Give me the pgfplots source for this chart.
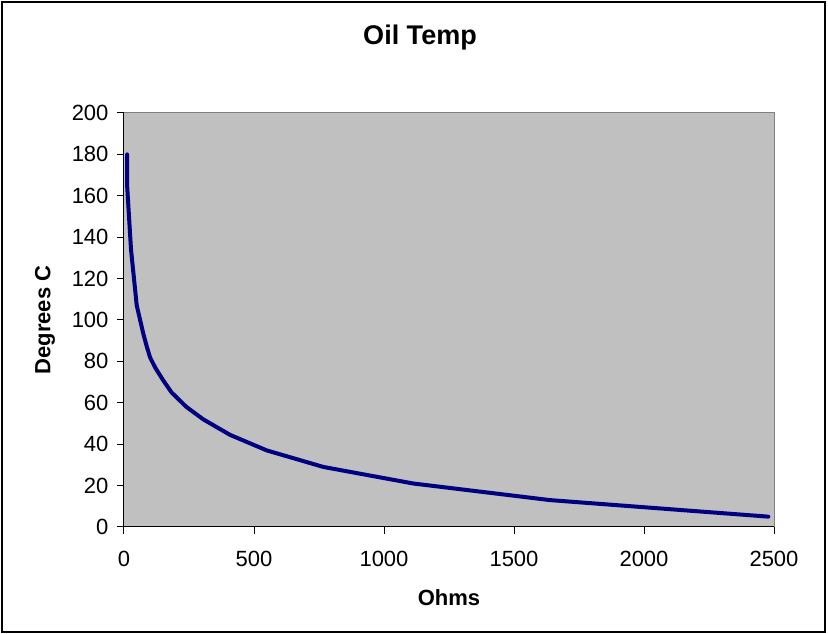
\documentclass[border=0pt]{standalone}
\usepackage{pgfplots}
\pgfplotsset{compat=1.18}
\usepackage{fontspec}
\setmainfont{Liberation Sans}
\definecolor{plotgray}{HTML}{C0C0C0}
\definecolor{navyline}{HTML}{000080}
\begin{document}
\begin{tikzpicture}[x=1pt,y=1pt]
\useasboundingbox (0,0) rectangle (828,634);
% chart frame
\draw[line width=2pt] (2,2) rectangle (825,632);
\node[font=\fontsize{27}{32}\selectfont\bfseries] at (420,596) {Oil Temp};
\begin{axis}[
    at={(124pt,107pt)}, anchor=south west,
    width=650pt, height=414pt, scale only axis,
    xmin=0, xmax=2500, ymin=0, ymax=200,
    axis x line*=bottom, axis y line*=left,
    axis line style={black, line width=1pt, -},
    axis background/.style={fill=plotgray, draw=gray, line width=1pt},
    tick align=outside,
    major tick length=7pt,
    tick style={black, line width=1pt},
    xtick={0,500,...,2500},
    ytick={0,20,...,200},
    minor tick num=0,
    tick label style={font=\fontsize{22}{26}\selectfont},
    /pgf/number format/assume math mode=true,
    /pgf/number format/1000 sep={},
    xticklabel style={yshift=-14pt},
    yticklabel style={xshift=-5pt},
    xlabel={\textbf{Ohms}},
    ylabel={\textbf{Degrees C}},
    label style={font=\fontsize{22}{26}\selectfont},
    xlabel style={at={(rel axis cs:0.5,0)}, anchor=center, yshift=-71pt},
    ylabel style={at={(rel axis cs:0,0.5)}, anchor=center, rotate=0, yshift=79pt},
]
\addplot[navyline, line width=4pt, line join=round, line cap=round, mark=none]
coordinates {
    (12,180) (12,165) (27,134) (49,107) (62,100) (75,93) (88,87) (100,82)
    (120,77) (150,71) (183,65) (240,58) (305,52) (408,44.5) (549,37)
    (767,29) (1113,21) (1638,13) (2478,5)
};
\end{axis}
\end{tikzpicture}
\end{document}
